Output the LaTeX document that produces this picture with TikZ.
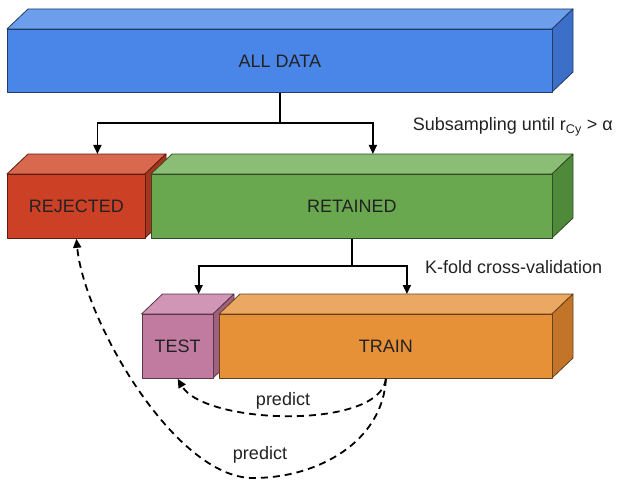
\documentclass[tikz,border=0pt]{standalone}
\usepackage{fontspec}
\setmainfont{Liberation Sans}
\usetikzlibrary{arrows.meta,calc}
\definecolor{bluefront}{HTML}{4A86E8}
\definecolor{bluetop}{HTML}{6D9EEB}
\definecolor{blueside}{HTML}{3C6FC8}
\definecolor{redfront}{HTML}{CC4125}
\definecolor{redtop}{HTML}{D8694F}
\definecolor{redside}{HTML}{A8341E}
\definecolor{greenfront}{HTML}{6AA84F}
\definecolor{greentop}{HTML}{8BBD76}
\definecolor{greenside}{HTML}{4F8A3A}
\definecolor{purplefront}{HTML}{C27BA0}
\definecolor{purpletop}{HTML}{D195B6}
\definecolor{purpleside}{HTML}{A0607F}
\definecolor{orangefront}{HTML}{E69138}
\definecolor{orangetop}{HTML}{EBA862}
\definecolor{orangeside}{HTML}{C27528}
\definecolor{textcol}{HTML}{222222}
\tikzset{
  face/.style={line width=0.8pt, line join=round},
  frontbox/.style={face, anchor=north west, inner sep=0pt, text=textcol,
    font=\fontsize{18}{21}\selectfont},
  conn/.style={line width=1.7pt, -{Triangle[length=9pt,width=8pt]}},
  plainconn/.style={line width=1.7pt},
  predarrow/.style={line width=1.8pt, dash pattern=on 7pt off 5pt, -{Triangle[length=9pt,width=8pt]}},
  lbl/.style={text=textcol, font=\fontsize{18}{21}\selectfont, inner sep=0pt}
}
% #1 name, #2 x, #3 y, #4 width, #5 height, #6 colour prefix, #7 label
\newcommand{\mycube}[7]{%
  \fill[#6top, draw=#6front!45!black, face] (#2,#3) -- ++(21,-20) -- ++(#4,0) -- ++(-21,20) -- cycle;
  \fill[#6side, draw=#6front!45!black, face] (#2+#4,#3) -- ++(21,-20) -- ++(0,#5) -- ++(-21,20) -- cycle;
  \node[frontbox, fill=#6front, draw=#6front!45!black, minimum width=#4pt, minimum height=#5pt] (#1) at (#2,#3) {#7};
  \coordinate (#1top) at ($(#1.north)+(21,-20)$);
}
\begin{document}
\begin{tikzpicture}[x=1pt,y=-1pt]
\useasboundingbox (0,0) rectangle (617,481);
\mycube{alldata}{7}{29}{545}{63}{blue}{ALL DATA}
\mycube{rejected}{7}{174}{138}{64}{red}{REJECTED}
\mycube{retained}{151}{174}{401}{64}{green}{RETAINED}
\mycube{test}{141.5}{314}{71.5}{64}{purple}{TEST}
\mycube{train}{219}{314}{333}{64}{orange}{TRAIN}

\coordinate (split1) at (alldata.south |- 0,123);
\draw[plainconn] (alldata.south) -- (split1);
\draw[conn] (split1) -| (rejectedtop);
\draw[conn] (split1) -| (retainedtop);

\coordinate (split2) at (retained.south |- 0,266);
\draw[plainconn] (retained.south) -- (split2);
\draw[conn] (split2) -| (testtop);
\draw[conn] (split2) -| (traintop);

\node[lbl, anchor=east] (subs) at (613,127) {Subsampling until r\textsubscript{Cy} > α};
\node[lbl, anchor=west] (kfold) at (425,267) {K-fold cross-validation};

\coordinate (lowpt) at (253,478);
\draw[predarrow] (train.south) .. controls (380,430) and (205,425) .. (test.south);
\draw[predarrow] (train.south) .. controls (383,440) and (320,478) .. (lowpt)
   .. controls (175,478) and (84,320) .. (rejected.south);
\node[lbl] (pred1) at (283,401) {predict};
\node[lbl] (pred2) at (260,455) {predict};
\end{tikzpicture}
\end{document}
